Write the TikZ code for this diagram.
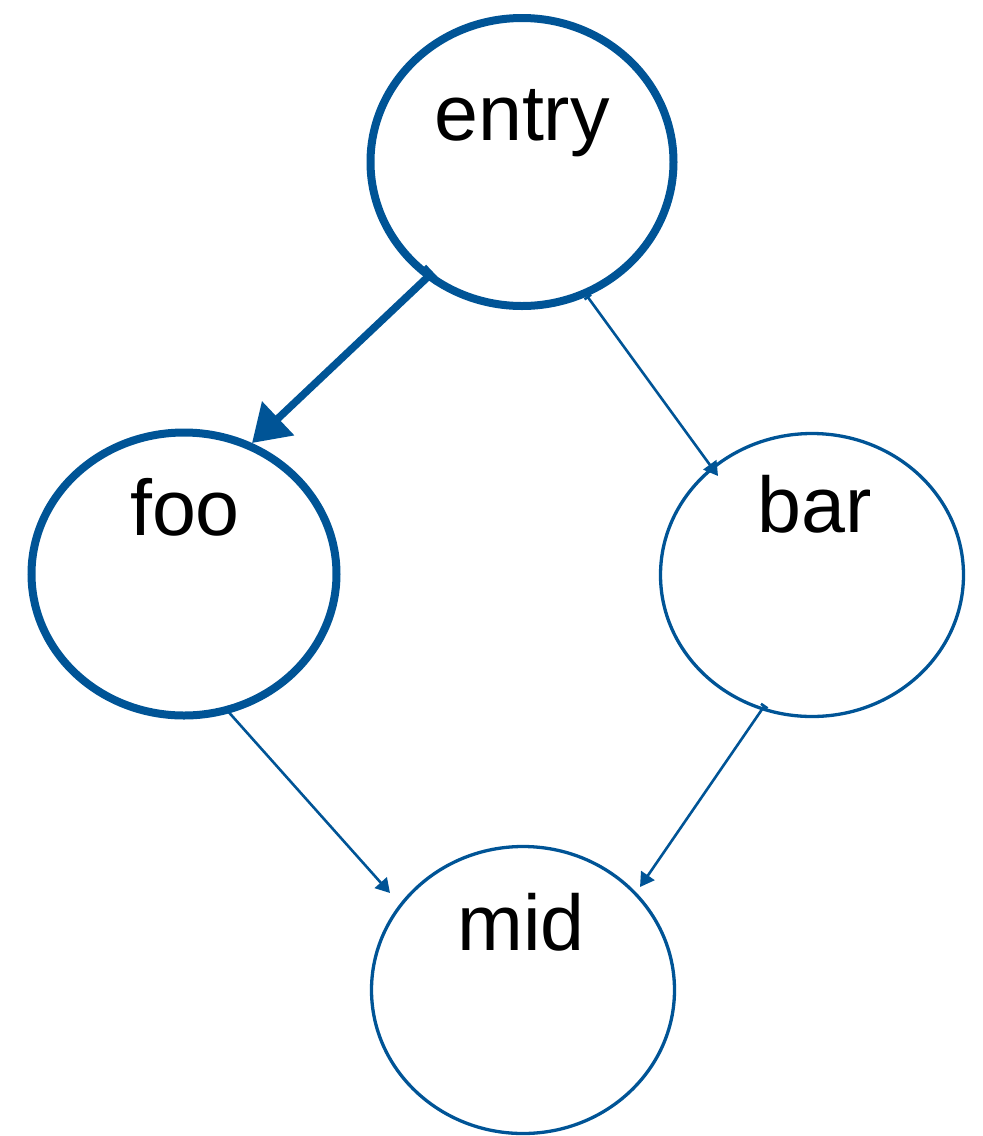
\documentclass[tikz,border=0pt]{standalone}
\usepackage{fontspec}
\setmainfont{Liberation Sans}
\usetikzlibrary{arrows.meta,shapes.geometric}
\definecolor{flowblue}{RGB}{0,84,150}
\tikzset{
  state/.style={draw=flowblue, ellipse, inner sep=0pt},
  hotstate/.style={state, line width=8pt},
  coldstate/.style={state, line width=3.3pt},
  lbl/.style={anchor=base, inner sep=0pt, font=\fontsize{79}{90}\selectfont},
  hotedge/.style={draw=flowblue, line width=7.5pt,
    {Bar[width=20pt]}-{Triangle[length=36pt,width=45pt]}},
  coldedge/.style={draw=flowblue, line width=2.6pt,
    {Bar[width=8pt]}-{Triangle[length=14pt,width=16pt]}},
}
\begin{document}
\begin{tikzpicture}[x=1pt,y=-1pt]
  \useasboundingbox (0,0) rectangle (983,1136);

  % blocks
  \node[hotstate, minimum width=303pt, minimum height=288pt] (entry) at (522,162) {};
  \node[hotstate, minimum width=305pt, minimum height=283pt] (foo) at (184,574) {};
  \node[coldstate, minimum width=303pt, minimum height=283pt] (bar) at (812,575) {};
  \node[coldstate, minimum width=303pt, minimum height=287pt] (mid) at (523,990) {};

  % block names
  \node[lbl] (entrytxt) at (522,140) {entry};
  \node[lbl] (footxt) at (185,535) {foo};
  \node[lbl] (bartxt) at (815,532) {bar};
  \node[lbl] (midtxt) at (521,950) {mid};

  % control-flow edges
  \draw[hotedge] ([shift={(-89,110)}]entry.center) -- ([shift={(68,-131)}]foo.center);
  \draw[coldedge] ([shift={(65,134)}]entry.center) -- ([shift={(-94,-99)}]bar.center);
  \draw[coldedge] ([shift={(41,134)}]foo.center) -- ([shift={(-133,-97)}]mid.center);
  \draw[coldedge] ([shift={(-47,130)}]bar.center) -- ([shift={(117,-103)}]mid.center);
\end{tikzpicture}
\end{document}
